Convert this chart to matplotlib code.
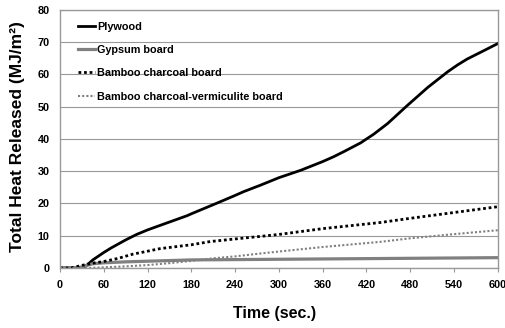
import matplotlib
matplotlib.use("Agg")
import matplotlib.pyplot as plt
import numpy as np

plt.rcParams['font.family'] = ['Liberation Sans', 'DejaVu Sans']

# Data (time in s, total heat released in MJ/m2)
ply_t = [0, 30, 35, 45, 60, 70, 90, 105, 120, 142, 174, 180, 215, 240, 252, 275, 300, 330, 360, 375, 390, 412, 430, 449, 476, 504, 531, 545, 558, 580, 600]
ply_v = [0, 0, 0.5, 2.5, 4.8, 6.2, 8.7, 10.4, 11.8, 13.6, 16.2, 16.8, 20.1, 22.5, 23.7, 25.7, 28.0, 30.3, 33, 34.5, 36.2, 38.8, 41.5, 44.8, 50.4, 56, 60.8, 63.0, 64.8, 67.3, 69.6]

gyp_t = [0, 25, 35, 45, 60, 90, 120, 180, 240, 300, 360, 420, 480, 540, 600]
gyp_v = [0, 0, 0.7, 1.3, 1.6, 1.9, 2.1, 2.5, 2.6, 2.7, 2.8, 2.9, 3.0, 3.1, 3.2]

bc_t = [0, 15, 30, 45, 60, 80, 100, 120, 137, 180, 206, 240, 275, 300, 360, 439, 480, 540, 600]
bc_v = [0, 0, 0.8, 1.5, 2, 3, 4.3, 5.2, 6, 7.2, 8.2, 9, 9.8, 10.4, 12.2, 14.1, 15.4, 17.2, 19]

bcv_t = [0, 40, 60, 90, 120, 150, 180, 210, 240, 275, 300, 360, 439, 480, 540, 600]
bcv_v = [0, 0, 0.2, 0.5, 0.9, 1.5, 2.2, 3, 3.6, 4.5, 5.1, 6.5, 8.1, 9.2, 10.5, 11.7]

labels = ["Plywood", "Gypsum board", "Bamboo charcoal board", "Bamboo charcoal-vermiculite board"]
xticks = [0, 60, 120, 180, 240, 300, 360, 420, 480, 540, 600]
yticks = [0, 10, 20, 30, 40, 50, 60, 70, 80]

fig = plt.figure(figsize=(5.05, 3.28), dpi=100)
ax = fig.add_axes([0.1188, 0.183, 0.867, 0.7865])

ax.plot(ply_t, ply_v, color='black', lw=2.0, label=labels[0])
ax.plot(gyp_t, gyp_v, color='#808080', lw=2.3, label=labels[1])
ax.plot(bc_t, bc_v, color='black', lw=2.0, linestyle=(0, (1, 1)), label=labels[2])
ax.plot(bcv_t, bcv_v, color='#808080', lw=1.5, linestyle=(0, (1, 1)), label=labels[3])

ax.set_xlim(0, 600)
ax.set_ylim(0, 80)
ax.set_xticks(xticks)
ax.set_yticks(yticks)
ax.set_xticklabels([str(x) for x in xticks], fontsize=7.8, fontweight='bold')
ax.set_yticklabels([str(y) for y in yticks], fontsize=7.8, fontweight='bold')
ax.tick_params(axis='x', direction='out', length=3, color='#999999', pad=6)
ax.tick_params(axis='y', length=0, pad=7.5)
ax.grid(axis='y', color='#999999', lw=0.8)
ax.set_axisbelow(True)
for s in ax.spines.values():
    s.set_color('#999999')
    s.set_linewidth(1.0)

ax.set_xlabel("Time (sec.)", fontsize=11.5, fontweight='bold')
ax.xaxis.set_label_coords(0.489, -0.147)
ax.set_ylabel("Total Heat Released (MJ/m²)", fontsize=12.5, fontweight='bold')
ax.yaxis.set_label_coords(-0.08, 0.508)

leg = ax.legend(loc='upper left', bbox_to_anchor=(0.031, 0.972), frameon=False,
                prop={'weight': 'bold', 'size': 7.8}, handlelength=1.6,
                handletextpad=0.15, labelspacing=1.23, borderaxespad=0.0)

fig.savefig("out.png", dpi=100)
